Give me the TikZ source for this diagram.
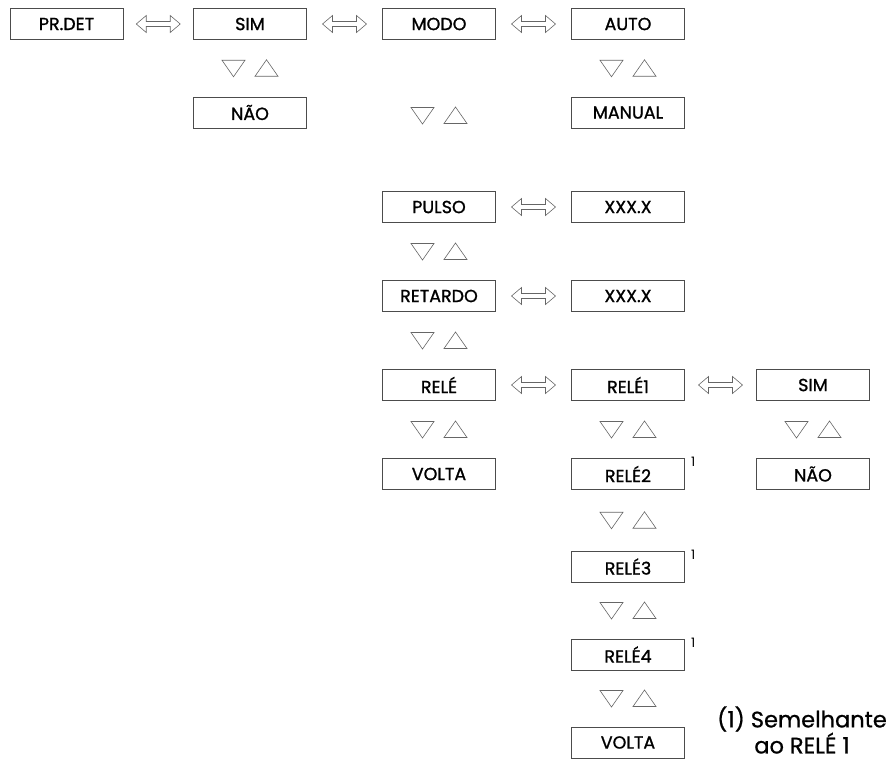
\documentclass[tikz,border=0pt]{standalone}
\usepackage{fontspec}
\setmainfont{Poppins}
\newfontfamily\boxfont{Poppins}[FakeBold=1.2]
\newfontfamily\footfont{Poppins}[FakeBold=0.8]
\usetikzlibrary{calc}
\tikzset{
  box/.style={draw=black!70, line width=0.8pt, minimum width=113pt, minimum height=31pt, inner sep=0pt, font=\boxfont\fontsize{17.5}{17.5}\selectfont},
  hollow/.style={draw=black!60, line width=0.6pt, line join=miter},
  dblarrow/.pic={\draw[hollow] (-22,0) -- (-12,-8.5) -- (-12,-2.5) -- (12,-2.5) -- (12,-8.5) -- (22,0) -- (12,8.5) -- (12,2.5) -- (-12,2.5) -- (-12,8.5) -- cycle;},
  updown/.pic={\draw[hollow] (-28,-8) -- (-5,-8) -- (-16.5,8.5) -- cycle;
               \draw[hollow] (5,8) -- (28,8) -- (16.5,-8.5) -- cycle;},
  note/.style={font=\fontsize{13}{13}\selectfont, inner sep=0pt},
  foot/.style={font=\footfont\fontsize{22.5}{22}\selectfont, align=center, inner sep=0pt}
}
\begin{document}
\begin{tikzpicture}[x=1pt,y=-1pt]
\useasboundingbox (0,0) rectangle (894,758);
% row 1
\node[box] (prdet) at (66.5,24) {PR.DET};
\node[box] (sim)   at (250,24) {SIM};
\node[box] (modo)  at (439,24) {MODO};
\node[box] (auto)  at (628,24) {AUTO};
\node[box] (nao)   at (250,112.5) {NÃO};
\node[box] (manual) at (628,112.5) {MANUAL};
% mode column
\node[box] (pulso)  at (439,207) {PULSO};
\node[box] (pval)   at (628,207) {XXX.X};
\node[box] (ret)    at (439,296) {RETARDO};
\node[box] (rval)   at (628,296) {XXX.X};
\node[box] (rele)   at (439,385) {RELÉ};
\node[box] (rele1)  at (628,385) {RELÉ1};
\node[box] (sim2)   at (813,385) {SIM};
\node[box] (volta1) at (439,474) {VOLTA};
\node[box] (rele2)  at (628,474) {RELÉ2};
\node[box] (nao2)   at (813,474) {NÃO};
\node[box] (rele3)  at (628,566.5) {RELÉ3};
\node[box] (rele4)  at (628,654.5) {RELÉ4};
\node[box] (volta2) at (628,742.5) {VOLTA};
% superscripts
\node[note, anchor=north west] (n2) at ($(rele2.north east)+(6,-1)$) {1};
\node[note, anchor=north west] (n3) at ($(rele3.north east)+(6,-1)$) {1};
\node[note, anchor=north west] (n4) at ($(rele4.north east)+(6,-1)$) {1};
% footnote
\node[foot] (fn) at (802,730) {(1) Semelhante\\ao RELÉ 1};
% horizontal double arrows
\pic at ($(prdet.east)!0.5!(sim.west)$) {dblarrow};
\pic at ($(sim.east)!0.5!(modo.west)$) {dblarrow};
\pic at ($(modo.east)!0.5!(auto.west)$) {dblarrow};
\pic at ($(pulso.east)!0.5!(pval.west)$) {dblarrow};
\pic at ($(ret.east)!0.5!(rval.west)$) {dblarrow};
\pic at ($(rele.east)!0.5!(rele1.west)$) {dblarrow};
\pic at ($(rele1.east)!0.5!(sim2.west)$) {dblarrow};
% vertical up/down triangles
\pic at ($(sim.south)!0.5!(nao.north)$) {updown};
\pic at ($(auto.south)!0.5!(manual.north)$) {updown};
\pic at ($(modo.south)!0.5!(pulso.north)$) {updown};
\pic at ($(pulso.south)!0.5!(ret.north)$) {updown};
\pic at ($(ret.south)!0.5!(rele.north)$) {updown};
\pic at ($(rele.south)!0.5!(volta1.north)$) {updown};
\pic at ($(rele1.south)!0.5!(rele2.north)$) {updown};
\pic at ($(sim2.south)!0.5!(nao2.north)$) {updown};
\pic at ($(rele2.south)!0.5!(rele3.north)$) {updown};
\pic at ($(rele3.south)!0.5!(rele4.north)$) {updown};
\pic at ($(rele4.south)!0.5!(volta2.north)$) {updown};
\end{tikzpicture}
\end{document}
